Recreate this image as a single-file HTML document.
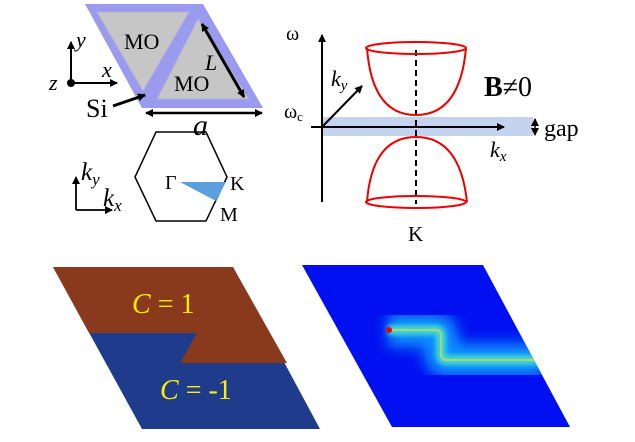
<!DOCTYPE html>
<html><head><meta charset="utf-8"><style>
body{margin:0;background:#fff;}
svg{display:block;}
svg text, svg tspan{font-family:"Liberation Serif","Times New Roman","DejaVu Serif",serif !important;}
</style></head><body>
<svg width="635" height="442" viewBox="0 0 635 442" xmlns="http://www.w3.org/2000/svg" style="font-family:'Liberation Serif','DejaVu Serif',serif">
<defs>
<marker id="ah" markerWidth="8" markerHeight="8" refX="7" refY="4" orient="auto" markerUnits="userSpaceOnUse"><path d="M0,0 L8,4 L0,8 z" fill="#000"/></marker>
<marker id="ahs" markerWidth="8" markerHeight="8" refX="7" refY="4" orient="auto-start-reverse" markerUnits="userSpaceOnUse"><path d="M0,0 L8,4 L0,8 z" fill="#000"/></marker>
<filter id="bl" x="-50%" y="-50%" width="200%" height="200%"><feGaussianBlur stdDeviation="7"/></filter>
<filter id="bl2" x="-20%" y="-50%" width="140%" height="200%"><feGaussianBlur stdDeviation="2.5"/></filter>
<clipPath id="cp"><polygon points="302,265 483,265 570,427 392,427"/></clipPath>
</defs>
<polygon points="85,4 203,4 263,108 142,108" fill="#9a9aee"/>
<polygon points="97,12 189,12 143,91" fill="#c6c6c6" stroke="#b0b0d8" stroke-width="1"/>
<polygon points="198,19 157,99 249,99" fill="#c6c6c6" stroke="#b0b0d8" stroke-width="1"/>
<text x="124" y="49" font-size="22">MO</text>
<text x="174" y="91" font-size="22">MO</text>
<text x="205" y="70" font-size="22" font-style="italic">L</text>
<line x1="202" y1="24" x2="244" y2="97" stroke="#000" stroke-width="3" marker-start="url(#ahs)" marker-end="url(#ah)"/>
<line x1="146" y1="113" x2="262" y2="113" stroke="#000" stroke-width="2.5" marker-start="url(#ahs)" marker-end="url(#ah)"/>
<text x="193" y="135" font-size="30" font-style="italic">a</text>
<text x="86" y="117" font-size="26">Si</text>
<line x1="113" y1="106" x2="145" y2="95" stroke="#000" stroke-width="3" marker-end="url(#ah)"/>
<line x1="71" y1="83" x2="71" y2="42" stroke="#000" stroke-width="2" marker-end="url(#ah)"/>
<line x1="71" y1="83" x2="117" y2="83" stroke="#000" stroke-width="2" marker-end="url(#ah)"/>
<circle cx="71" cy="83" r="4" fill="#000"/>
<text x="76" y="47" font-size="22" font-style="italic">y</text>
<text x="102" y="77" font-size="22" font-style="italic">x</text>
<text x="49" y="90" font-size="22" font-style="italic">z</text>
<polygon points="156,132 206,132 227,177 206,221 156,221 135,177" fill="none" stroke="#000" stroke-width="1.5"/>
<polygon points="180,182 226,182 216,201" fill="#5b9fdf"/>
<text x="165" y="189" font-size="20">Γ</text>
<text x="230" y="190" font-size="20">K</text>
<text x="220" y="221" font-size="20">M</text>
<line x1="76" y1="210" x2="76" y2="177" stroke="#000" stroke-width="1.8" marker-end="url(#ah)"/>
<line x1="76" y1="210" x2="112" y2="210" stroke="#000" stroke-width="1.8" marker-end="url(#ah)"/>
<text x="81" y="180" font-size="25" font-style="italic">k<tspan font-size="17" dy="5">y</tspan></text>
<text x="103" y="206" font-size="25" font-style="italic">k<tspan font-size="17" dy="5">x</tspan></text>
<rect x="322" y="117" width="211" height="19" fill="#c5d3ee"/>
<line x1="322" y1="202" x2="322" y2="35" stroke="#000" stroke-width="2" marker-end="url(#ah)"/>
<line x1="311" y1="127" x2="504" y2="127" stroke="#000" stroke-width="2" marker-end="url(#ah)"/>
<line x1="322" y1="127" x2="362" y2="86" stroke="#000" stroke-width="2" marker-end="url(#ah)"/>
<line x1="416" y1="50" x2="416" y2="204" stroke="#000" stroke-width="2" stroke-dasharray="6,4"/>
<path d="M367,48 Q372,115 416,115 Q460,115 466,48" fill="none" stroke="#e00" stroke-width="2"/>
<ellipse cx="416" cy="48" rx="50" ry="6" fill="none" stroke="#e00" stroke-width="2"/>
<path d="M367,202 Q372,137 416,137 Q460,137 467,202" fill="none" stroke="#e00" stroke-width="2"/>
<ellipse cx="416" cy="202" rx="50" ry="6" fill="none" stroke="#e00" stroke-width="2"/>
<line x1="535" y1="119" x2="535" y2="135" stroke="#000" stroke-width="1.5" marker-start="url(#ahs)" marker-end="url(#ah)"/>
<text x="544" y="136" font-size="24">gap</text>
<text x="286" y="40" font-size="20">ω</text>
<text x="284" y="118" font-size="20">ω<tspan font-size="13" dy="3">c</tspan></text>
<text x="331" y="86" font-size="22" font-style="italic">k<tspan font-size="15" dy="4">y</tspan></text>
<text x="490" y="157" font-size="22" font-style="italic">k<tspan font-size="15" dy="4">x</tspan></text>
<text x="484" y="96" font-size="28" font-weight="bold">B<tspan font-weight="normal">≠0</tspan></text>
<text x="408" y="241" font-size="21">K</text>
<polygon points="53,267 233,267 320,429 142,429" fill="#1f3c8c"/>
<polygon points="53,267 233,267 287,363 180,363 197,333 89,333" fill="#8a3a1c"/>
<text x="132" y="313" font-size="28" fill="#ffee00"><tspan font-style="italic">C</tspan> = 1</text>
<text x="160" y="399" font-size="28" fill="#ffee00"><tspan font-style="italic">C</tspan> = -1</text>
<polygon points="302,265 483,265 570,427 392,427" fill="#0010f0"/>
<g clip-path="url(#cp)">
<path d="M388,330 L436,330 Q441,330 441,336 L441,354 Q441,360 447,360 L545,360" fill="none" stroke="#1090ff" stroke-width="34" filter="url(#bl)"/>
<path d="M388,330 L436,330 Q441,330 441,336 L441,354 Q441,360 447,360 L545,360" fill="none" stroke="#40d8d0" stroke-width="10" filter="url(#bl2)"/>
<path d="M388,330 L436,330 Q441,330 441,336 L441,354 Q441,360 447,360 L545,360" fill="none" stroke="#d0d060" stroke-width="2" opacity="0.8"/>
</g>
<circle cx="389" cy="330" r="3" fill="#e00"/>
</svg>
</body></html>
